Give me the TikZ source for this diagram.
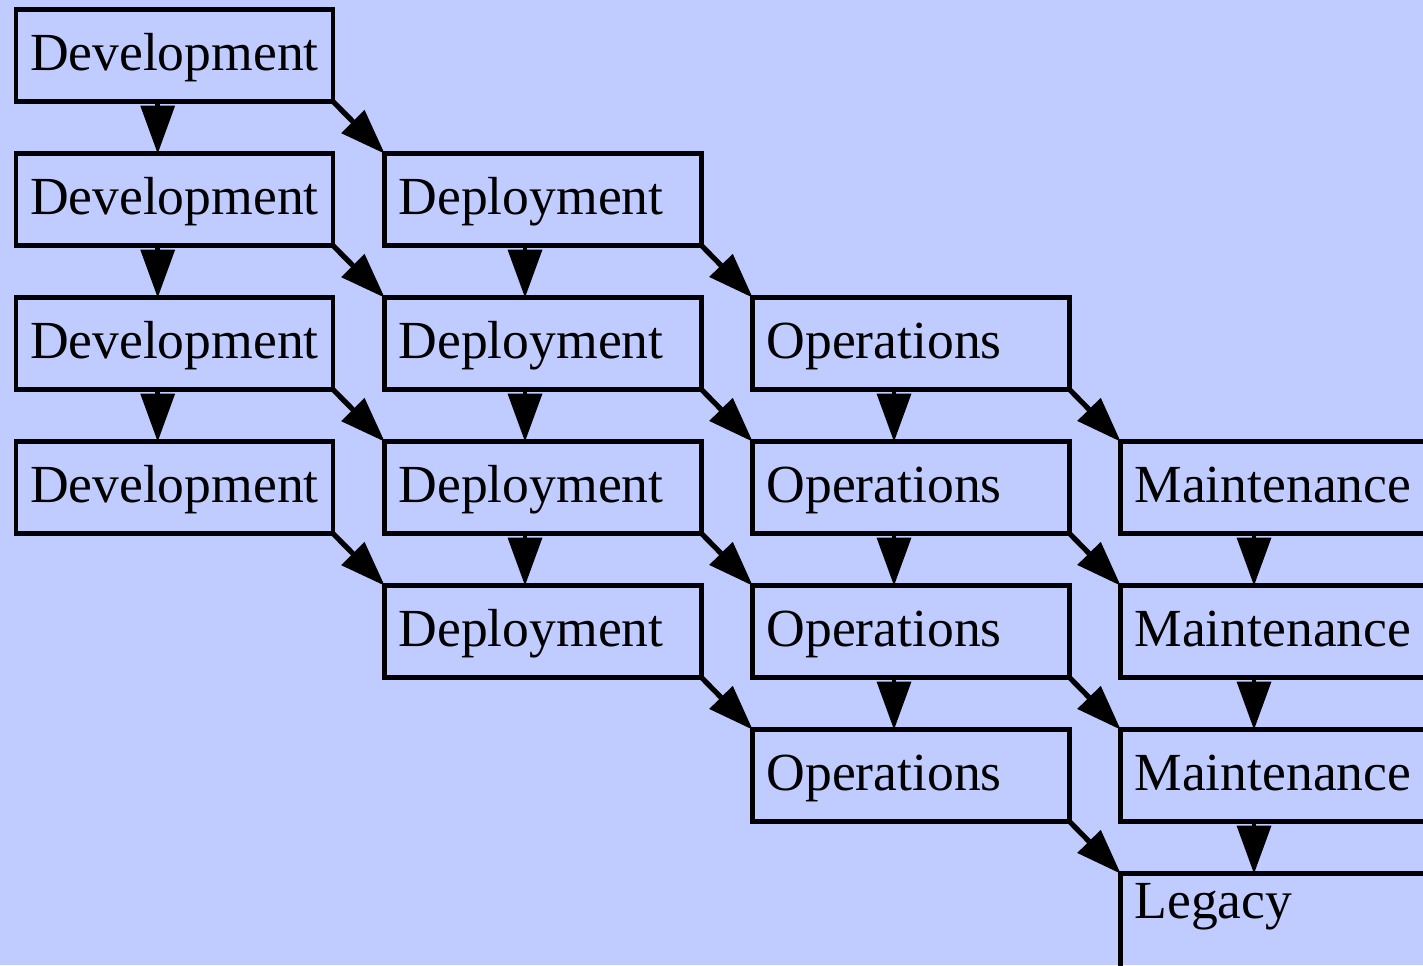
\documentclass[tikz,border=0pt]{standalone}
\usepackage{fontspec}
\setmainfont{Liberation Serif}
\usetikzlibrary{arrows.meta}
\definecolor{bgblue}{RGB}{192,204,255}
\begin{document}
\begin{tikzpicture}[x=0.5pt,y=-0.5pt,
  stage/.style={draw, line width=2.3pt, anchor=north west,
    inner xsep=7pt, inner ysep=0pt, outer sep=0pt,
    text width=144.5pt, align=left, minimum height=46pt,
    text height=20pt, text depth=4.6pt,
    font=\fontsize{26.8pt}{30pt}\selectfont},
  widestage/.style={stage, text width=170pt},
  down/.style={draw, line width=2.3pt,
    -{Triangle[length=24pt,width=17.5pt,line width=0pt]}},
  across/.style={draw, line width=2.6pt,
    -{Triangle[length=22.5pt,width=16.5pt,line width=0pt]}}
]
% page and background
\fill[bgblue] (0,0) rectangle (1423,965);
\useasboundingbox (0,0) rectangle (1423,965);
\clip (0,0) rectangle (1423,965);

% stage boxes, one column per phase
\foreach \r in {0,...,3}
  \node[stage] (dev\r) at (16, 9.5+144*\r) {Development};
\foreach \r in {1,...,4}
  \node[stage] (dep\r) at (384.5, 9.5+144*\r) {Deployment};
\foreach \r in {2,...,5}
  \node[stage] (ops\r) at (752.5, 9.5+144*\r) {Operations};
\foreach \r in {3,...,5}
  \node[widestage] (mnt\r) at (1120.5, 9.5+144*\r) {Maintenance};
\node[widestage, minimum height=70pt, text height=10pt, text depth=35.5pt]
  (leg6) at (1120.5, 873.5) {Legacy};

% progression within a phase
\foreach \r [evaluate=\r as \n using int(\r+1)] in {0,1,2}
  \draw[down] ([xshift=70.85pt]dev\r.south west) -- ([xshift=70.85pt]dev\n.north west);
\foreach \r [evaluate=\r as \n using int(\r+1)] in {1,2,3}
  \draw[down] ([xshift=70.25pt]dep\r.south west) -- ([xshift=70.25pt]dep\n.north west);
\foreach \r [evaluate=\r as \n using int(\r+1)] in {2,3,4}
  \draw[down] ([xshift=70.75pt]ops\r.south west) -- ([xshift=70.75pt]ops\n.north west);
\foreach \r [evaluate=\r as \n using int(\r+1)] in {3,4}
  \draw[down] ([xshift=66.75pt]mnt\r.south west) -- ([xshift=66.75pt]mnt\n.north west);
\draw[down] ([xshift=66.75pt]mnt5.south west) -- ([xshift=66.75pt]leg6.north west);

% hand-over to the next phase
\foreach \r [evaluate=\r as \n using int(\r+1)] in {0,...,3}
  \draw[across] (dev\r.south east) -- (dep\n.north west);
\foreach \r [evaluate=\r as \n using int(\r+1)] in {1,...,4}
  \draw[across] (dep\r.south east) -- (ops\n.north west);
\foreach \r [evaluate=\r as \n using int(\r+1)] in {2,...,4}
  \draw[across] (ops\r.south east) -- (mnt\n.north west);
\draw[across] (ops5.south east) -- (leg6.north west);
\end{tikzpicture}
\end{document}
